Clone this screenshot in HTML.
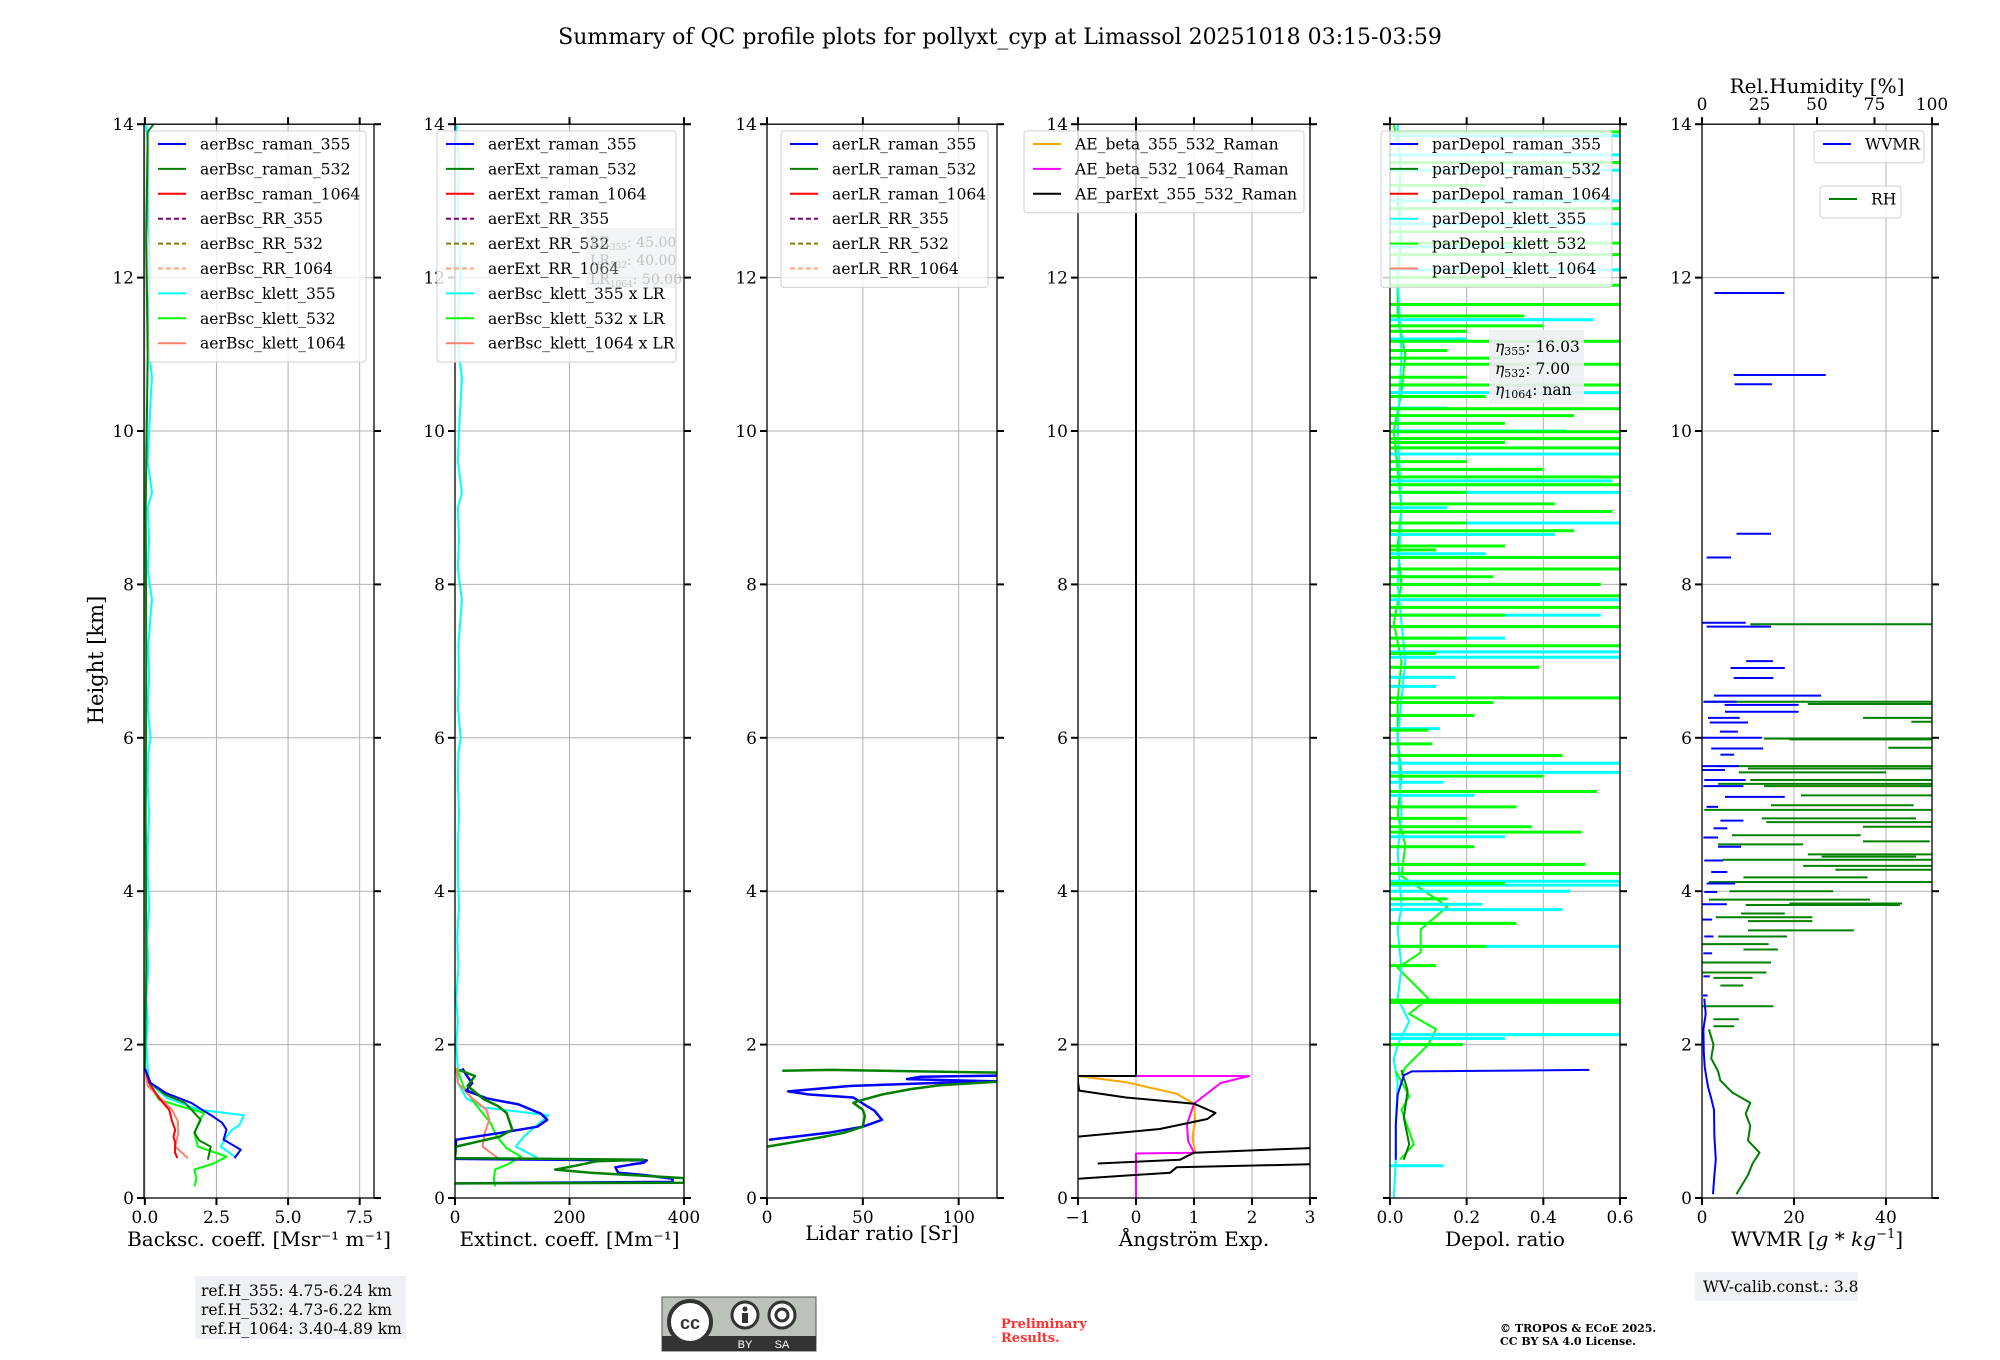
<!DOCTYPE html>
<html><head><meta charset="utf-8"><style>
html,body{margin:0;padding:0;background:#fff;}
svg{display:block;font-family:"DejaVu Serif","Liberation Serif",serif;}
</style></head><body>
<svg id="fig" xmlns="http://www.w3.org/2000/svg" width="2000" height="1360" viewBox="0 0 2000 1360">
<rect width="2000" height="1360" fill="#fff"/>
<text x="1000" y="44" text-anchor="middle" font-size="22">Summary of QC profile plots for pollyxt_cyp at Limassol 20251018 03:15-03:59</text>
<text transform="translate(103,660) rotate(-90)" text-anchor="middle" font-size="21">Height [km]</text>
<g id="plots"></g>
<g>
<rect x="195" y="1276" width="211" height="63" fill="#eef0f4"/>
<text x="201" y="1296" font-size="15.5">ref.H_355: 4.75-6.24 km</text>
<text x="201" y="1315" font-size="15.5">ref.H_532: 4.73-6.22 km</text>
<text x="201" y="1334" font-size="15.5">ref.H_1064: 3.40-4.89 km</text>
</g>
<g>
<rect x="662" y="1297" width="154" height="54" fill="#bcc1bc" stroke="#555" stroke-width="1"/>
<rect x="662" y="1336" width="154" height="15" fill="#333"/>
<circle cx="690" cy="1322" r="21" fill="#fff" stroke="#333" stroke-width="4"/>
<text x="690" y="1329" text-anchor="middle" font-size="18" font-weight="bold" font-family="Liberation Sans, sans-serif" fill="#333">cc</text>
<circle cx="745" cy="1315" r="13" fill="#fff" stroke="#333" stroke-width="3"/>
<circle cx="745" cy="1309" r="2.5" fill="#333"/><rect x="742" y="1313" width="6" height="10" fill="#333"/>
<circle cx="782" cy="1315" r="13" fill="#fff" stroke="#333" stroke-width="3"/>
<circle cx="782" cy="1315" r="6" fill="none" stroke="#333" stroke-width="3"/>
<text x="745" y="1348" text-anchor="middle" font-size="11" fill="#fff" font-family="Liberation Sans, sans-serif">BY</text>
<text x="782" y="1348" text-anchor="middle" font-size="11" fill="#fff" font-family="Liberation Sans, sans-serif">SA</text>
</g>
<g fill="#ff3030" font-size="13" font-weight="bold">
<text x="1001" y="1328">Preliminary</text><text x="1001" y="1342">Results.</text></g>
<g font-size="11" font-weight="bold">
<text x="1500" y="1332">© TROPOS &amp; ECoE 2025.</text><text x="1500" y="1345">CC BY SA 4.0 License.</text></g>
<g>
<rect x="1695" y="1272" width="163" height="29" fill="#eef0f4"/>
<text x="1703" y="1292" font-size="15.5">WV-calib.const.: 3.8</text></g>
</svg>
<script>
// ---------- data ----------
const heightTicks=[0,2,4,6,8,10,12,14];
const p1Ticks=[0,2.5,5,7.5], p1TickLabels=["0.0","2.5","5.0","7.5"];
const p2Ticks=[0,200,400], p3Ticks=[0,50,100], p4Ticks=[-1,0,1,2,3], p4TickLabels=["\u22121","0","1","2","3"];
const p5Ticks=[0,0.2,0.4,0.6], p5TickLabels=["0.0","0.2","0.4","0.6"];
const p6Ticks=[0,20,40], rhTicks=[0,25,50,75,100];
// panel 1 backscatter
const bsc355H=[1.69,1.5,1.37,1.24,1.15,1.07,0.98,0.89,0.76,0.63,0.52];
const bsc355V=[0,0.2,0.73,1.62,2.0,2.35,2.7,2.85,2.75,3.35,3.13];
const bsc532H=[14,13.9,12.5,11,9,7,5,3,1.69,1.5,1.35,1.24,1.12,1.02,0.85,0.75,0.67,0.5];
const bsc532V=[0.3,0.1,0.05,0.1,0.03,0.05,0.03,0.05,0,0.2,0.7,1.4,1.7,1.95,1.73,1.9,2.3,2.2];
const bsc1064H=[1.69,1.5,1.3,1.15,1.0,0.89,0.8,0.72,0.6,0.52];
const bsc1064V=[0,0.15,0.5,0.85,0.95,1.06,1.0,1.06,1.05,1.13];
const klett355H=[14,13.5,13,12.5,12,11.5,11,10.7,10.4,10,9.6,9.2,9,8.6,8.2,7.8,7.6,7.2,6.8,6.4,6,5.8,5.4,5,4.6,4.2,3.8,3.4,3,2.6,2.3,2,1.7,1.5,1.3,1.15,1.08,0.95,0.89,0.8,0.67,0.54];
const klett355V=[0.05,0.15,0.1,0.15,0.2,0.1,0.15,0.25,0.2,0.15,0.1,0.25,0.1,0.15,0.1,0.25,0.2,0.12,0.15,0.1,0.2,0.12,0.1,0.15,0.1,0.1,0.15,0.08,0.12,0.05,0.1,0.05,0.1,0.15,0.8,1.9,3.46,3.3,3.05,2.85,2.65,3.13];
const klett532H=[1.69,1.45,1.28,1.2,1.11,1.0,0.85,0.67,0.54,0.45,0.37,0.25,0.15];
const klett532V=[0,0.2,0.5,1.2,2.07,1.9,1.73,1.85,2.85,2.4,1.73,1.8,1.73];
const klett1064H=[1.69,1.46,1.3,1.15,1.0,0.85,0.67,0.52];
const klett1064V=[0,0.1,0.55,0.95,1.15,1.17,1.06,1.5];
// panel 2 extinction
const ext355H=[1.69,1.6,1.5,1.4,1.3,1.22,1.1,1.02,0.93,0.85,0.76,0.51,0.49,0.46,0.44,0.40,0.33,0.3,0.25,0.21,0.19];
const ext355V=[13,20,30,20,55,111,150,161,144,80,2,0,335,330,310,280,285,330,380,380,0];
const ext532H=[1.67,1.59,1.46,1.29,1.2,1.11,1.0,0.89,0.8,0.67,0.52,0.5,0.48,0.42,0.37,0.33,0.26,0.2,0.19];
const ext532V=[7,35,22,50,75,90,95,100,78,2,0,330,248,210,175,237,400,400,0];
const extK355H=[14,13.5,13,12.5,12,11.5,11,10.7,10.4,10,9.6,9.2,9,8.6,8.2,7.8,7.6,7.2,6.8,6.4,6,5.8,5.4,5,4.6,4.2,3.8,3.4,3,2.6,2.3,2,1.7,1.5,1.3,1.18,1.08,0.93,0.8,0.67,0.52];
const extK355V=[2,7,5,7,10,5,7,12,10,7,5,12,5,7,5,12,10,6,7,5,10,6,5,7,5,5,7,4,6,2,5,2,5,5,20,50,163,140,120,106,145];
const extK532H=[1.7,1.45,1.2,0.98,0.8,0.65,0.54,0.45,0.37,0.25,0.15];
const extK532V=[3,15,38,62,73,90,115,95,70,68,70];
const extK1064H=[1.7,1.5,1.3,1.15,1.02,0.85,0.67,0.52];
const extK1064V=[2,5,30,55,60,52,48,75];
// panel 3 lidar ratio
const lr355H=[1.6,1.58,1.55,1.52,1.5,1.46,1.39,1.35,1.31,1.2,1.14,1.02,0.93,0.85,0.76];
const lr355V=[130,80,73,120,87,43,11,22,45,52,56,60,50,32,1];
const lr532H=[1.66,1.67,1.63,1.53,1.47,1.42,1.35,1.28,1.24,1.15,1.07,0.93,0.85,0.8,0.72,0.67];
const lr532V=[8,33,130,130,90,75,60,50,45,50,51,50,40,30,12,0];
// panel 4 angstrom
const ae355H=[1.59,1.51,1.36,1.23,1.0,0.79,0.59];
const ae355V=[-1,-0.17,0.7,1,1.02,0.97,1.02];
const ae532H=[1.59,1.59,1.5,1.23,0.96,0.74,0.59,0.58,0.0];
const ae532V=[0,1.95,1.46,1,0.88,0.9,1,0,0];
const aeExtH=[14,1.59,1.59,1.51,1.4,1.31,1.23,1.11,1.03,0.9,0.8,null,0.45,0.5,0.59,0.65,null,0.25,0.33,0.4,0.44];
const aeExtV=[0,0,-1,-1,-0.98,-0.17,1,1.37,1.23,0.41,-1,null,-0.66,0.76,1,3,null,-1,0.59,0.7,3];
// panel 5 depol
const depol355H=[1.67,1.65,1.6,1.35,0.95,0.5];
const depol355V=[0.52,0.057,0.036,0.02,0.015,0.015];
const depol532H=[1.67,1.4,1.05,0.7,0.5];
const depol532V=[0.03,0.046,0.036,0.05,0.036];
const limeLowH=[1.65,1.33,1.15,0.7,0.5];
const limeLowV=[0.015,0.05,0.03,0.062,0.026];
const limeBaseH=[1.6,1.7,1.85,2.0,2.2,2.4,2.6,2.8,3.0,3.2,3.5,3.8,4.2,4.6,5.0,5.5,6.0,6.5,7.0,7.5,8.0,8.5,9.0,9.5,10.0,10.5,11.0,11.5,12.0,12.5,13.0,13.5,14.0];
const limeBaseV=[0.03,0.04,0.07,0.1,0.12,0.05,0.1,0.06,0.02,0.08,0.08,0.15,0.03,0.04,0.02,0.03,0.02,0.02,0.03,0.01,0.03,0.02,0.03,0.02,0.01,0.03,0.04,0.02,0.02,0.03,0.02,0.03,0.01];
const limeSpikeH=[13.9,13.5,13.2,12.9,12.6,12.45,12.3,12.0,11.9,11.65,11.5,11.37,11.3,11.17,11.05,10.95,10.87,10.7,10.6,10.45,10.29,10.2,10.1,9.99,9.9,9.85,9.78,9.6,9.5,9.4,9.3,9.2,9.05,8.95,8.8,8.7,8.5,8.45,8.35,8.2,8.1,8.0,7.85,7.7,7.6,7.45,7.3,7.2,7.1,6.92,6.52,6.46,6.29,6.1,5.92,5.77,5.5,5.3,5.1,4.95,4.84,4.77,4.58,4.35,4.23,4.1,3.9,3.58,3.28,3.03,2.58,2.55,2.0];
const limeSpikeV=[0.6,0.6,0.25,0.6,0.5,0.6,0.6,0.25,0.6,0.6,0.35,0.4,0.2,0.6,0.15,0.3,0.6,0.2,0.6,0.25,0.6,0.48,0.3,0.6,0.6,0.3,0.6,0.2,0.4,0.6,0.6,0.2,0.43,0.58,0.2,0.48,0.3,0.12,0.6,0.6,0.27,0.55,0.6,0.6,0.3,0.6,0.2,0.6,0.12,0.39,0.6,0.27,0.22,0.1,0.11,0.45,0.4,0.54,0.33,0.2,0.37,0.5,0.22,0.51,0.6,0.3,0.15,0.33,0.25,0.12,0.6,0.6,0.19];
const cyanBaseH=[0,0.5,1.0,1.5,1.8,2.0,2.3,2.6,3.0,3.5,3.8,4.5,5,6,7,8,9,10,11,12,13,14];
const cyanBaseV=[0.01,0.015,0.015,0.02,0.01,0.02,0.05,0.02,0.03,0.02,0.03,0.02,0.03,0.02,0.04,0.02,0.03,0.02,0.03,0.02,0.03,0.02];
const cyanSpikeH=[13.85,13.6,13.4,13.0,12.7,12.4,12.1,11.45,11.2,10.5,10.3,10.0,9.7,9.5,9.35,9.2,9.0,8.8,8.65,8.4,8.1,7.8,7.6,7.3,7.12,7.05,6.79,6.67,6.12,5.67,5.55,5.42,5.25,4.71,4.13,4.08,4.0,3.83,3.76,3.28,2.56,2.13,2.08,0.42];
const cyanSpikeV=[0.6,0.6,0.6,0.6,0.6,0.35,0.6,0.53,0.2,0.6,0.15,0.46,0.6,0.3,0.58,0.6,0.15,0.6,0.43,0.25,0.2,0.6,0.55,0.3,0.6,0.6,0.17,0.12,0.13,0.6,0.6,0.14,0.22,0.3,0.6,0.6,0.47,0.24,0.45,0.6,0.19,0.6,0.3,0.14];
// panel 6 water vapour
const wvH=[2.6,2.4,2.2,1.9,1.7,1.45,1.3,1.15,0.8,0.5,0.3,0.05];
const wvV=[0.5,0.8,0.3,0.4,0.6,1.3,2.0,2.6,2.7,3.0,2.7,2.4];
const wvSegH=[11.8,10.73,10.61,8.66,8.35,7.5,7.45,7.0,6.91,6.78,6.55,6.47,6.43,6.34,6.26,6.2,6.08,6.0,5.86,5.78,5.63,5.58,5.45,5.37,5.23,5.1,4.92,4.82,4.7,4.58,4.4,4.25,4.1,3.99,3.83,3.63,3.41,3.19,2.89,2.64];
const wvSegA=[2.7,6.9,7.1,7.5,1,0,1,9.6,6.2,6.9,2.6,0.3,4.9,5,1.3,1.7,3.9,0,2,4,0,0,0.5,0.3,5,1,4,2.5,0.3,3.5,0.5,2,1,0.5,0,0,0.5,0.3,0.3,0.2];
const wvSegB=[17.9,26.9,15.2,15,6.3,9.5,15,15.4,18,15.5,25.9,7.5,21,21,8.2,10,7.8,13,13.3,7,8,5,9.5,9,18,3.5,9,5.5,3.5,8.5,4.6,5.5,7.2,3.3,5.4,2.2,2.5,2.2,1.7,1.2];
const rhH=[2.2,2.0,1.82,1.65,1.53,1.38,1.24,1.1,0.94,0.75,0.59,0.45,0.3,0.15,0.05];
const rhV=[3,5,4,7,8,13,21,19,21,20,25,22,20,17,15];
const rhSegH=[7.48,6.47,6.44,6.26,6.21,5.99,5.98,5.87,5.63,5.6,5.55,5.45,5.4,5.37,5.25,5.12,5.06,4.95,4.9,4.84,4.73,4.65,4.61,4.48,4.45,4.41,4.33,4.28,4.18,4.12,4.0,3.89,3.84,3.82,3.71,3.66,3.61,3.49,3.41,3.31,3.24,3.07,2.94,2.87,2.77,2.5,2.33,2.24];
const rhSegA=[21,2,46,70,91,27,38,81,7,20,16,21,7,27,43,30,1,26,28,70,13,70,7,46,52,9,44,58,18,3,12,3,38,19,17,6,20,20,7,0,18,0,0,5,8,0,5,5];
const rhSegB=[100,100,100,100,100,100,100,100,100,100,80,100,100,100,100,92,100,93,100,100,69,99,44,100,93,100,100,100,72,100,57,73,87,86,36,48,48,66,37,29,33,30,28,22,18,31,16,14];

// ---------- drawing ----------
const NS="http://www.w3.org/2000/svg";
const root=document.getElementById('plots');
const Y0=1198, KM=76.7;
function yPix(h){return Y0-h*KM;}
function mk(tag,attrs,parent){const e=document.createElementNS(NS,tag);for(const k in attrs)e.setAttribute(k,attrs[k]);(parent||root).appendChild(e);return e;}
function makeX(x0,w,lo,hi){return v=>x0+(v-lo)/(hi-lo)*w;}
const panels=[
 {x0:144,w:230,lo:-0.03,hi:8.0,ticks:p1Ticks,labels:p1TickLabels,xlabel:"Backsc. coeff. [Msr\u207B\u00B9 m\u207B\u00B9]",ylab:true},
 {x0:455,w:229,lo:0,hi:400,ticks:p2Ticks,labels:p2Ticks.map(String),xlabel:"Extinct. coeff. [Mm\u207B\u00B9]",ylab:true},
 {x0:767,w:230,lo:0,hi:120,ticks:p3Ticks,labels:p3Ticks.map(String),xlabel:"Lidar ratio [Sr]",ylab:true},
 {x0:1078,w:232,lo:-1,hi:3,ticks:p4Ticks,labels:p4TickLabels,xlabel:"\u00C5ngstr\u00F6m Exp.",ylab:true},
 {x0:1390,w:230,lo:0,hi:0.6,ticks:p5Ticks,labels:p5TickLabels,xlabel:"Depol. ratio",ylab:false},
 {x0:1702,w:230,lo:0,hi:50,ticks:p6Ticks,labels:p6Ticks.map(String),xlabel:null,ylab:true}
];
panels.forEach((p,i)=>{p.X=makeX(p.x0,p.w,p.lo,p.hi);p.g=mk('g',{});
 
 
 const cp=mk('clipPath',{id:'clip'+i},p.g);mk('rect',{x:p.x0,y:yPix(14),width:p.w,height:14*KM},cp);
 p.grid=mk('g',{},p.g);p.data=mk('g',{'clip-path':'url(#clip'+i+')'},p.g);p.axes=mk('g',{},p.g);});

function drawAxes(p,i){
 const top=yPix(14);
 heightTicks.forEach(h=>{const y=yPix(h);
  const gl=mk('line',{x1:p.x0,x2:p.x0+p.w,y1:y,y2:y,stroke:'#b0b0b0','stroke-width':1},p.grid);
  
  
  mk('line',{x1:p.x0-7,x2:p.x0,y1:y,y2:y,stroke:'#000','stroke-width':2},p.axes);
  mk('line',{x1:p.x0+p.w,x2:p.x0+p.w+7,y1:y,y2:y,stroke:'#000','stroke-width':2},p.axes);
  if(p.ylab){const t=mk('text',{x:p.x0-10,y:y+6,'text-anchor':'end','font-size':17},p.axes);t.textContent=String(h);
   
   }
 });
 p.ticks.forEach((v,k)=>{const x=p.X(v);
  const gl=mk('line',{x1:x,x2:x,y1:top,y2:Y0,stroke:'#b0b0b0','stroke-width':1},p.grid);
  
  
  mk('line',{x1:x,x2:x,y1:Y0,y2:Y0+7,stroke:'#000','stroke-width':2},p.axes);
  if(i!==5)mk('line',{x1:x,x2:x,y1:top-7,y2:top,stroke:'#000','stroke-width':2},p.axes);
  const t=mk('text',{x:x,y:Y0+25,'text-anchor':'middle','font-size':17},p.axes);t.textContent=p.labels[k];
  
  
 });
 const fr=mk('rect',{x:p.x0,y:top,width:p.w,height:14*KM,fill:'none',stroke:'#000','stroke-width':1.3},p.axes);
 
 
 if(p.xlabel){const t=mk('text',{x:p.x0+p.w/2,y:i===2?1240:1246,'text-anchor':'middle','font-size':20},p.axes);t.textContent=p.xlabel;
  
  }
}
panels.forEach(drawAxes);

function line(p,H,V,color,opt,name){opt=opt||{};let d='',pen=false;
 const n=Math.min(H.length,V.length);
 for(let k=0;k<n;k++){if(H[k]===null||V[k]===null){pen=false;continue;}
  const x=(opt.X||p.X)(V[k]),y=yPix(H[k]);d+=(pen?'L':'M')+x.toFixed(1)+' '+y.toFixed(1)+' ';pen=true;}
 const e=mk('path',{d:d,fill:'none',stroke:color,'stroke-width':opt.w||2,'stroke-linejoin':'round'},p.data);
 if(opt.op)e.setAttribute('stroke-opacity',opt.op);
 
 
 return e;}
function spikes(p,H,V,color,w,name,X){const n=Math.min(H.length,V.length);const Xf=X||p.X;
 for(let k=0;k<n;k++){const y=yPix(H[k]);
  const e=mk('line',{x1:Xf(0),x2:Xf(V[k]),y1:y,y2:y,stroke:color,'stroke-width':w},p.data);
  
  }}
function segs(p,H,A,B,color,w,name,X){const n=Math.min(H.length,A.length,B.length);const Xf=X||p.X;
 for(let k=0;k<n;k++){const y=yPix(H[k]);
  const e=mk('line',{x1:Xf(A[k]),x2:Xf(B[k]),y1:y,y2:y,stroke:color,'stroke-width':w},p.data);
  
  }}

const P=panels;
// panel 1
line(P[0],klett355H,klett355V,'#00ffff',{},'bsc-klett-355');
line(P[0],klett532H,klett532V,'#00ff00',{},'bsc-klett-532');
line(P[0],klett1064H,klett1064V,'#fa8072',{},'bsc-klett-1064');
line(P[0],bsc1064H,bsc1064V,'#ff0000',{},'bsc-raman-1064');
line(P[0],bsc532H,bsc532V,'#008000',{},'bsc-raman-532');
line(P[0],bsc355H,bsc355V,'#0000ff',{},'bsc-raman-355');
// panel 2
line(P[1],extK355H,extK355V,'#00ffff',{},'ext-klett-355');
line(P[1],extK532H,extK532V,'#00ff00',{},'ext-klett-532');
line(P[1],extK1064H,extK1064V,'#fa8072',{},'ext-klett-1064');
line(P[1],ext355H,ext355V,'#0000ff',{w:2.5},'ext-raman-355');
line(P[1],ext532H,ext532V,'#008000',{w:2.5},'ext-raman-532');
// panel 3
line(P[2],lr355H,lr355V,'#0000ff',{w:2.5},'lr-raman-355');
line(P[2],lr532H,lr532V,'#008000',{w:2.5},'lr-raman-532');
// panel 4
line(P[3],ae355H,ae355V,'#ffa500',{},'ae-beta-355-532');
line(P[3],ae532H,ae532V,'#ff00ff',{},'ae-beta-532-1064');
line(P[3],aeExtH,aeExtV,'#000000',{},'ae-parext-355-532');
// panel 5
line(P[4],limeBaseH,limeBaseV,'#00ff00',{},'depol-klett-532-base');
line(P[4],cyanBaseH,cyanBaseV,'#00ffff',{},'depol-klett-355-base');
spikes(P[4],cyanSpikeH,cyanSpikeV,'#00ffff',3,'depol-klett-355-spike');
spikes(P[4],limeSpikeH,limeSpikeV,'#00ff00',3,'depol-klett-532-spike');
line(P[4],limeLowH,limeLowV,'#00ff00',{},'depol-klett-532-low');
line(P[4],depol532H,depol532V,'#008000',{},'depol-raman-532');
line(P[4],depol355H,depol355V,'#0000ff',{},'depol-raman-355');
// panel 6
const RHX=makeX(P[5].x0,P[5].w,0,100);
segs(P[5],rhSegH,rhSegA,rhSegB,'#008000',2,'rh-segment',RHX);
line(P[5],rhH,rhV,'#008000',{X:RHX},'rh-profile');
segs(P[5],wvSegH,wvSegA,wvSegB,'#0000ff',2,'wvmr-segment');
line(P[5],wvH,wvV,'#0000ff',{},'wvmr-profile');
// top RH axis
rhTicks.forEach(v=>{const x=RHX(v);mk('line',{x1:x,x2:x,y1:yPix(14)-7,y2:yPix(14),stroke:'#000','stroke-width':2},P[5].axes);
 const t=mk('text',{x:x,y:110,'text-anchor':'middle','font-size':17},P[5].axes);t.textContent=String(v);
 
 });
{const t=mk('text',{x:1817,y:93,'text-anchor':'middle','font-size':20},P[5].axes);t.textContent='Rel.Humidity [%]';
 
 
 const w=mk('text',{x:1817,y:1246,'text-anchor':'middle','font-size':20},P[5].axes);
 
 
 w.innerHTML='WVMR [<tspan font-style="italic">g</tspan> * <tspan font-style="italic">kg</tspan><tspan font-size="13" dy="-8">\u22121</tspan><tspan dy="8">]</tspan>';}

// legends
function legend(x,y,w,entries,name){const g=mk('g',{});
 
 
 mk('rect',{x:x,y:y,width:w,height:entries.length*24.9+7,rx:3,fill:'#fff','fill-opacity':0.8,stroke:'#d0d0d0'},g);
 entries.forEach((e,k)=>{const cy=y+13+k*24.9;
  const l=mk('line',{x1:x+9,x2:x+37,y1:cy,y2:cy,stroke:e[1],'stroke-width':2},g);
  if(e[2])l.setAttribute('stroke-dasharray','5,3');
  const t=mk('text',{x:x+51,y:cy+5.5,'font-size':15.6},g);t.textContent=e[0];
  
  });}
legend(149,131,217,[['aerBsc_raman_355','#0000ff'],['aerBsc_raman_532','#008000'],['aerBsc_raman_1064','#ff0000'],['aerBsc_RR_355','#800080',1],['aerBsc_RR_532','#808000',1],['aerBsc_RR_1064','#ffa07a',1],['aerBsc_klett_355','#00ffff'],['aerBsc_klett_532','#00ff00'],['aerBsc_klett_1064','#fa8072']],'legend-backscatter');
legend(437,131,239,[['aerExt_raman_355','#0000ff'],['aerExt_raman_532','#008000'],['aerExt_raman_1064','#ff0000'],['aerExt_RR_355','#800080',1],['aerExt_RR_532','#808000',1],['aerExt_RR_1064','#ffa07a',1],['aerBsc_klett_355 x LR','#00ffff'],['aerBsc_klett_532 x LR','#00ff00'],['aerBsc_klett_1064 x LR','#fa8072']],'legend-extinction');
legend(781,131,207,[['aerLR_raman_355','#0000ff'],['aerLR_raman_532','#008000'],['aerLR_raman_1064','#ff0000'],['aerLR_RR_355','#800080',1],['aerLR_RR_532','#808000',1],['aerLR_RR_1064','#ffa07a',1]],'legend-lidar-ratio');
legend(1024,131,280,[['AE_beta_355_532_Raman','#ffa500'],['AE_beta_532_1064_Raman','#ff00ff'],['AE_parExt_355_532_Raman','#000000']],'legend-angstrom');
legend(1381,131,231,[['parDepol_raman_355','#0000ff'],['parDepol_raman_532','#008000'],['parDepol_raman_1064','#ff0000'],['parDepol_klett_355','#00ffff'],['parDepol_klett_532','#00ff00'],['parDepol_klett_1064','#fa8072']],'legend-depol');
legend(1814,131,110,[['WVMR','#0000ff']],'legend-wvmr');
legend(1820,186,81,[['RH','#008000']],'legend-rh');

// LR box and eta box
{const g=mk('g',{opacity:0.35});
 
 
 mk('rect',{x:586,y:228,width:90,height:60,fill:'#dde0e8'},g);
 g.innerHTML+='<text x="590" y="247" font-size="14" fill="#555">LR<tspan font-size="9" dy="3">355</tspan><tspan dy="-3">: 45.00</tspan></text><text x="590" y="265" font-size="14" fill="#555">LR<tspan font-size="9" dy="3">532</tspan><tspan dy="-3">: 40.00</tspan></text><text x="590" y="284" font-size="14" fill="#555">LR<tspan font-size="9" dy="3">1064</tspan><tspan dy="-3">: 50.00</tspan></text>';}
{const g=mk('g',{});
 
 
 mk('rect',{x:1489,y:330,width:95,height:73,fill:'#eef0f4','fill-opacity':0.9},g);
 g.innerHTML+='<text x="1495" y="352" font-size="15.5"><tspan font-style="italic">η</tspan><tspan font-size="11" dy="3">355</tspan><tspan dy="-3">: 16.03</tspan></text><text x="1495" y="374" font-size="15.5"><tspan font-style="italic">η</tspan><tspan font-size="11" dy="3">532</tspan><tspan dy="-3">: 7.00</tspan></text><text x="1495" y="395" font-size="15.5"><tspan font-style="italic">η</tspan><tspan font-size="11" dy="3">1064</tspan><tspan dy="-3">: nan</tspan></text>';}
</script>
</body></html>
